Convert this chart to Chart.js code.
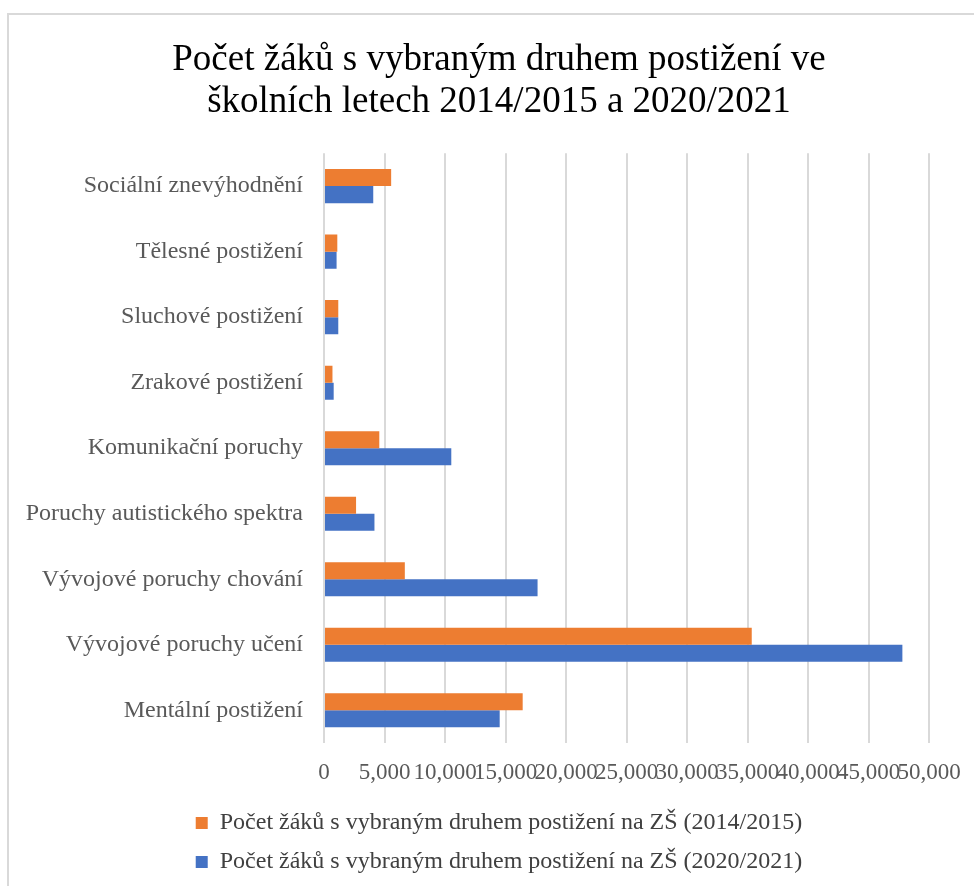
<!DOCTYPE html>
<html>
<head>
<meta charset="utf-8">
<script src="https://cdn.jsdelivr.net/npm/chart.js@4/dist/chart.umd.min.js"></script>
<style>
  html, body { margin: 0; padding: 0; background: #fff; }
  #wrap { position: relative; width: 974px; height: 886px; overflow: hidden; }
  #frame { position: absolute; left: 7px; top: 13px; width: 1000px; height: 900px;
           border-left: 2px solid #d9d9d9; border-top: 2px solid #d9d9d9; }
  #graf { position: absolute; left: 0; top: 0; }
</style>
</head>
<body>
<div id="wrap">
  <div id="frame"></div>
  <canvas id="graf" width="974" height="886"></canvas>
</div>
<script>
// kategorie shora dolů
const kategorie = [
  'Sociální znevýhodnění',
  'Tělesné postižení',
  'Sluchové postižení',
  'Zrakové postižení',
  'Komunikační poruchy',
  'Poruchy autistického spektra',
  'Vývojové poruchy chování',
  'Vývojové poruchy učení',
  'Mentální postižení'
];
const zaci2014 = [5550, 1100, 1180, 700, 4570, 2650, 6680, 35350, 16420];
const zaci2020 = [4070, 1040, 1180, 800, 10520, 4170, 17650, 47800, 14520];
const osaX = [0, 5000, 10000, 15000, 20000, 25000, 30000, 35000, 40000, 45000, 50000];

const serif = 'Liberation Serif, Times New Roman, serif';

new Chart(document.getElementById('graf').getContext('2d'), {
  type: 'bar',
  data: {
    labels: kategorie,
    datasets: [
      {
        label: 'Počet žáků s vybraným druhem postižení na ZŠ (2014/2015)',
        data: zaci2014,
        backgroundColor: '#ED7D31',
        borderWidth: 0
      },
      {
        label: 'Počet žáků s vybraným druhem postižení na ZŠ (2020/2021)',
        data: zaci2020,
        backgroundColor: '#4472C4',
        borderWidth: 0
      }
    ]
  },
  options: {
    indexAxis: 'y',
    responsive: false,
    animation: false,
    layout: { padding: { left: 24, right: 0, top: 0, bottom: 2 } },
    datasets: { bar: { categoryPercentage: 0.52, barPercentage: 1.0 } },
    scales: {
      x: {
        min: osaX[0],
        max: osaX[osaX.length - 1],
        afterBuildTicks: s => { s.ticks = osaX.map(v => ({ value: v })); },
        afterFit: s => { s.height = 53; s.paddingRight = 45; s.paddingLeft = 0; },
        grid: { color: '#d9d9d9', lineWidth: 2, drawTicks: false },
        border: { display: false },
        ticks: {
          autoSkip: false,
          maxRotation: 0,
          minRotation: 0,
          padding: 16,
          color: '#595959',
          font: { family: serif, size: 23 },
          callback: v => v.toLocaleString('en-US')
        }
      },
      y: {
        afterFit: s => { s.width = 300; },
        grid: { display: false, drawTicks: false },
        border: { display: false },
        ticks: {
          padding: 21,
          color: '#595959',
          font: { family: serif, size: 24 }
        }
      }
    },
    plugins: {
      title: {
        display: true,
        text: ['Počet žáků s vybraným druhem postižení ve', 'školních letech 2014/2015 a 2020/2021'],
        color: '#000',
        font: { family: serif, size: 37, weight: 'normal', lineHeight: 1.14 },
        padding: { top: 39, bottom: 30 }
      },
      legend: {
        position: 'bottom',
        labels: {
          boxWidth: 12,
          boxHeight: 12,
          padding: 15,
          color: '#404040',
          font: { family: serif, size: 24 }
        }
      },
      tooltip: { enabled: false }
    }
  }
});
</script>
</body>
</html>
